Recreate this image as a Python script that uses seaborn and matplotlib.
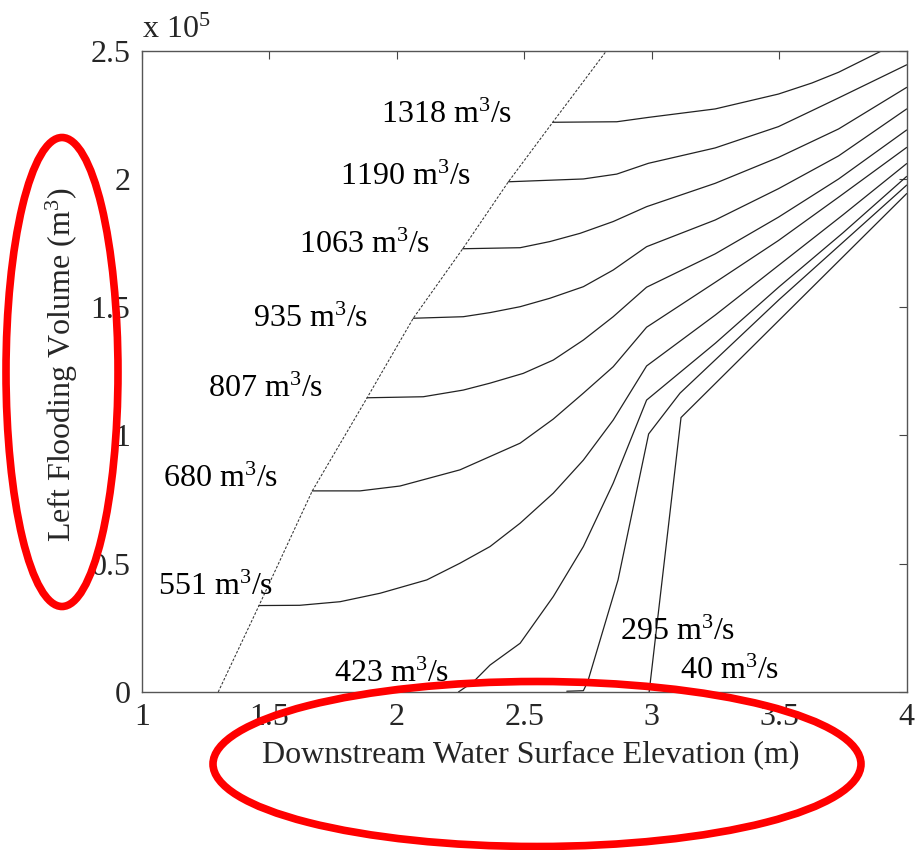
import numpy as np
import pandas as pd
import matplotlib
matplotlib.use("Agg")
import matplotlib.pyplot as plt
from matplotlib.patches import Ellipse
import seaborn as sns

# ---------------- data (x: downstream elevation in m, y: volume in 1e5 m^3) -------------
boundary_x = [1.30, 1.460, 1.669, 1.884, 2.065, 2.259, 2.438, 2.612, 2.823]
boundary_y = [0.0, 0.337, 0.784, 1.147, 1.457, 1.728, 1.989, 2.221, 2.5]

q1318_x = [2.612, 2.863, 2.987, 3.249, 3.497, 3.628, 3.733, 3.897, 4.0]
q1318_y = [2.221, 2.223, 2.240, 2.273, 2.331, 2.374, 2.416, 2.497, 2.56]

q1190_x = [2.438, 2.732, 2.863, 2.987, 3.249, 3.497, 3.628, 3.733, 4.0]
q1190_y = [1.989, 2.000, 2.019, 2.061, 2.121, 2.204, 2.266, 2.316, 2.445]

q1063_x = [2.259, 2.484, 2.601, 2.719, 2.849, 2.98, 3.249, 3.497, 3.733, 4.0]
q1063_y = [1.728, 1.732, 1.756, 1.788, 1.834, 1.892, 1.983, 2.084, 2.195, 2.357]

q935_x = [2.065, 2.261, 2.366, 2.484, 2.601, 2.732, 2.849, 2.98, 3.249, 3.497, 3.733, 4.0]
q935_y = [1.457, 1.463, 1.479, 1.502, 1.535, 1.580, 1.645, 1.736, 1.840, 1.962, 2.090, 2.273]

q807_x = [1.884, 2.104, 2.261, 2.366, 2.496, 2.614, 2.732, 2.849, 2.98, 3.249, 3.497, 3.733, 4.0]
q807_y = [1.147, 1.151, 1.177, 1.204, 1.242, 1.294, 1.372, 1.463, 1.578, 1.708, 1.851, 2.0, 2.191]

q680_x = [1.669, 1.856, 2.013, 2.248, 2.484, 2.614, 2.732, 2.849, 2.98, 3.249, 3.497, 3.733, 4.0]
q680_y = [0.784, 0.784, 0.803, 0.866, 0.970, 1.064, 1.165, 1.268, 1.422, 1.597, 1.760, 1.929, 2.123]

q551_x = [1.460, 1.620, 1.778, 1.935, 2.118, 2.248, 2.366, 2.484, 2.614, 2.732, 2.849, 2.98, 3.25, 3.5, 3.75, 4.0]
q551_y = [0.337, 0.338, 0.352, 0.385, 0.437, 0.502, 0.567, 0.658, 0.775, 0.904, 1.060, 1.271, 1.47, 1.665, 1.86, 2.06]

q423_x = [2.242, 2.301, 2.366, 2.484, 2.614, 2.732, 2.849, 2.98, 3.25, 3.5, 3.75, 4.0]
q423_y = [0.0, 0.040, 0.105, 0.190, 0.372, 0.567, 0.814, 1.138, 1.36, 1.58, 1.79, 2.01]

q295_x = [2.667, 2.732, 2.749, 2.868, 2.988, 3.111, 3.5, 4.0]
q295_y = [0.003, 0.005, 0.040, 0.437, 1.006, 1.165, 1.53, 1.976]

q40_x = [2.99, 3.115, 4.0]
q40_y = [0.0, 1.07, 1.943]

flow_labels = ["1318", "1190", "1063", "935", "807", "680", "551", "423", "295", "40"]
label_x = [1.939, 1.778, 1.617, 1.437, 1.260, 1.084, 1.064, 1.754, 2.876, 3.111]
label_y = [2.218, 1.977, 1.712, 1.423, 1.150, 0.799, 0.378, 0.039, 0.203, 0.051]

x_ticks = [1, 1.5, 2, 2.5, 3, 3.5, 4]
y_ticks = [0, 0.5, 1, 1.5, 2, 2.5]
y_ticklabels = ["0", "0.5", "1", "1.5", "2", "2.5"]

curves = {
    "1318": (q1318_x, q1318_y), "1190": (q1190_x, q1190_y), "1063": (q1063_x, q1063_y),
    "935": (q935_x, q935_y), "807": (q807_x, q807_y), "680": (q680_x, q680_y),
    "551": (q551_x, q551_y), "423": (q423_x, q423_y), "295": (q295_x, q295_y),
    "40": (q40_x, q40_y),
}

frames = []
for name, (xs, ys) in curves.items():
    frames.append(pd.DataFrame({"elev": xs, "vol": ys, "flow": name}))
df = pd.concat(frames, ignore_index=True)
bdf = pd.DataFrame({"elev": boundary_x, "vol": boundary_y})

# ---------------- style -----------------
sns.set_style("white")
plt.rcParams["font.family"] = ["Liberation Serif", "DejaVu Serif"]
plt.rcParams["mathtext.fontset"] = "custom"
plt.rcParams["mathtext.rm"] = "Liberation Serif"
plt.rcParams["mathtext.it"] = "Liberation Serif:italic"
plt.rcParams["mathtext.bf"] = "Liberation Serif:bold"

FS = 23

fig = plt.figure(figsize=(9.24, 8.5), dpi=100)
ax = fig.add_axes([141.7 / 924, 1 - 692 / 850, 765 / 924, 641.3 / 850])

sns.lineplot(data=df, x="elev", y="vol", units="flow", estimator=None, sort=False,
             color="#222222", linewidth=0.9, ax=ax, legend=False)
sns.lineplot(data=bdf, x="elev", y="vol", estimator=None, sort=False,
             color="#333333", linewidth=0.75, linestyle=(0, (2.5, 1.6)), ax=ax, legend=False)

ax.set_xlim(1, 4)
ax.set_ylim(0, 2.5)
ax.set_xticks(x_ticks)
ax.set_xticklabels([f"{t:g}" for t in x_ticks])
ax.set_yticks(y_ticks)
ax.set_yticklabels(y_ticklabels)
ax.tick_params(direction="in", top=True, right=True, length=6, width=0.8,
               labelsize=FS, pad=8, color="#444444")
for s in ax.spines.values():
    s.set_color("#555555")
    s.set_linewidth(1.0)

ax.set_xlabel("Downstream Water Surface Elevation (m)", fontsize=FS)
ax.set_ylabel("Left Flooding Volume (m$^3$)", fontsize=FS)
ax.xaxis.set_label_coords(0.509, -0.075)
ax.yaxis.set_label_coords(-0.080, 0.51)

for lab, lx, ly in zip(flow_labels, label_x, label_y):
    ax.text(lx, ly, f"{lab} m$^3$/s", fontsize=FS, ha="left", va="baseline",
            color="black")

fig.text(141.7 / 924, 1 - 38 / 850, "x 10$^5$", fontsize=FS, ha="left", va="baseline")

# red highlight ellipses (annotation overlay)
e1 = Ellipse((62 / 924, 1 - 372 / 850), 112 / 924, 469 / 850, transform=fig.transFigure,
             fill=False, edgecolor="#ff0000", linewidth=5.5, zorder=20)
e2 = Ellipse((537 / 924, 1 - 764 / 850), 648 / 924, 165 / 850, transform=fig.transFigure,
             fill=False, edgecolor="#ff0000", linewidth=5.5, zorder=20)
fig.add_artist(e1)
fig.add_artist(e2)

fig.savefig("out.png", dpi=100)
